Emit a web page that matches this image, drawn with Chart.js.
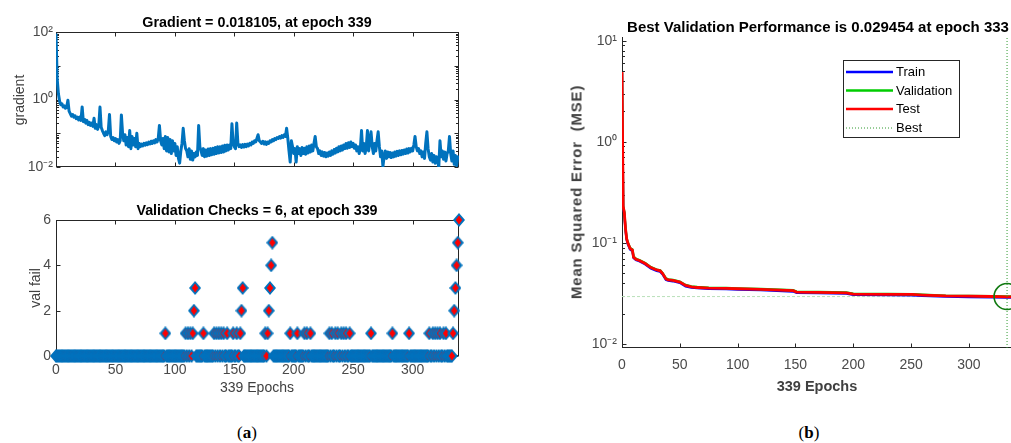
<!DOCTYPE html>
<html><head><meta charset="utf-8">
<script src="https://cdn.jsdelivr.net/npm/chart.js@4.4.1/dist/chart.umd.min.js"></script>
<style>
html,body{margin:0;padding:0;background:#fff;width:1011px;height:443px;overflow:hidden;position:relative;}
.box{position:absolute;}
.txt{position:absolute;font-family:"Liberation Sans",Arial,sans-serif;white-space:pre;line-height:1;transform:translate(-50%,-50%);}
.title{font-weight:bold;font-size:14.3px;color:#000;}
.title2{font-weight:bold;font-size:15px;color:#000;}
.lab{font-size:14px;color:#404040;}
.blab{font-weight:bold;font-size:14.5px;color:#404040;}
.ylab{font-weight:bold;font-size:15px;letter-spacing:0.8px;color:#404040;}
.rot{transform:translate(-50%,-50%) rotate(-90deg);}
.cap{font-family:"Liberation Serif","DejaVu Serif",serif;font-size:17px;color:#000;}
</style></head><body>
<div class="box" style="left:0;top:0;width:470px;height:185px"><canvas id="cGrad" width="470" height="185"></canvas></div>
<div class="box" style="left:0;top:190px;width:470px;height:200px"><canvas id="cFail" width="470" height="200"></canvas></div>
<div class="box" style="left:560px;top:0;width:451px;height:400px;overflow:hidden"><canvas id="cPerf" width="470" height="400"></canvas></div>

<div class="txt title" style="left:257px;top:22px">Gradient = 0.018105, at epoch 339</div>
<div class="txt lab rot" style="left:19px;top:100px">gradient</div>
<div class="txt title" style="left:257px;top:210px">Validation Checks = 6, at epoch 339</div>
<div class="txt lab rot" style="left:35px;top:288px">val fail</div>
<div class="txt lab" style="left:257px;top:387px">339 Epochs</div>
<div class="txt title2" style="left:818px;top:26px">Best Validation Performance is 0.029454 at epoch 333</div>
<div class="txt ylab rot" style="left:576px;top:192px">Mean Squared Error  (MSE)</div>
<div class="txt blab" style="left:817px;top:386px">339 Epochs</div>
<div class="txt cap" style="left:247px;top:432px">(<b>a</b>)</div>
<div class="txt cap" style="left:809px;top:432px">(<b>b</b>)</div>

<script>
// ---------------- DATA ----------------
const epochCount = 340;
const epochTicks = [0, 50, 100, 150, 200, 250, 300];
const epochTickLabels = ['0', '50', '100', '150', '200', '250', '300'];

// (a) top: gradient per epoch 0..339
const gradient = [
  90, 4.0, 1.5, 0.9, 0.7, 0.75, 0.6, 0.65, 0.55, 0.6,
  0.95, 0.45, 0.38, 0.32, 0.36, 0.3, 0.33, 0.27, 0.3, 0.25,
  0.3, 0.24, 0.6, 0.22, 0.26, 0.2, 0.24, 0.18, 0.21, 0.17,
  0.2, 0.16, 0.28, 0.14, 0.18, 0.13, 0.17, 0.6, 0.15, 0.12,
  0.1, 0.085, 0.11, 0.09, 0.12, 0.36, 0.08, 0.065, 0.075, 0.06,
  0.07, 0.055, 0.065, 0.05, 0.06, 0.35, 0.1, 0.06, 0.09, 0.045,
  0.075, 0.04, 0.12, 0.035, 0.08, 0.045, 0.07, 0.04, 0.1, 0.035,
  0.05, 0.04, 0.048, 0.042, 0.05, 0.044, 0.052, 0.046, 0.055, 0.048,
  0.058, 0.05, 0.06, 0.052, 0.065, 0.055, 0.07, 0.17, 0.06, 0.045,
  0.07, 0.035, 0.08, 0.03, 0.075, 0.028, 0.065, 0.025, 0.06, 0.03,
  0.05, 0.022, 0.04, 0.018, 0.013, 0.03, 0.05, 0.14, 0.06, 0.035,
  0.03, 0.02, 0.035, 0.017, 0.03, 0.016, 0.025, 0.02, 0.028, 0.022,
  0.17, 0.04, 0.03, 0.022, 0.035, 0.02, 0.032, 0.021, 0.034, 0.022,
  0.035, 0.023, 0.036, 0.024, 0.038, 0.025, 0.04, 0.026, 0.04, 0.027,
  0.042, 0.028, 0.044, 0.03, 0.045, 0.032, 0.045, 0.035, 0.19, 0.05,
  0.04, 0.035, 0.2, 0.05, 0.04, 0.045, 0.038, 0.046, 0.039, 0.047,
  0.04, 0.048, 0.042, 0.05, 0.045, 0.055, 0.05, 0.06, 0.055, 0.07,
  0.09, 0.06, 0.055, 0.05, 0.058, 0.048, 0.056, 0.047, 0.055, 0.05,
  0.06, 0.055, 0.065, 0.06, 0.07, 0.065, 0.075, 0.07, 0.08, 0.072,
  0.085, 0.075, 0.09, 0.08, 0.14, 0.07, 0.03, 0.014, 0.06, 0.04,
  0.025, 0.035, 0.014, 0.04, 0.025, 0.035, 0.022, 0.038, 0.025, 0.036,
  0.024, 0.04, 0.026, 0.042, 0.028, 0.045, 0.03, 0.05, 0.08, 0.04,
  0.035, 0.025, 0.03, 0.022, 0.028, 0.021, 0.027, 0.02, 0.026, 0.021,
  0.028, 0.022, 0.03, 0.024, 0.033, 0.026, 0.036, 0.028, 0.04, 0.03,
  0.042, 0.032, 0.045, 0.035, 0.05, 0.036, 0.052, 0.038, 0.055, 0.04,
  0.05, 0.036, 0.045, 0.03, 0.04, 0.025, 0.035, 0.12, 0.03, 0.05,
  0.025, 0.04, 0.12, 0.03, 0.06, 0.11, 0.04, 0.025, 0.05, 0.03,
  0.06, 0.11, 0.04, 0.02, 0.03, 0.0105, 0.02, 0.03, 0.018, 0.028,
  0.02, 0.027, 0.019, 0.026, 0.02, 0.028, 0.021, 0.029, 0.022, 0.03,
  0.023, 0.031, 0.024, 0.032, 0.025, 0.034, 0.026, 0.035, 0.028, 0.036,
  0.03, 0.045, 0.08, 0.04, 0.03, 0.035, 0.025, 0.03, 0.02, 0.028,
  0.018, 0.05, 0.11, 0.035, 0.02, 0.016, 0.025, 0.014, 0.022, 0.013,
  0.02, 0.015, 0.01, 0.06, 0.02, 0.03, 0.017, 0.028, 0.015, 0.025,
  0.03, 0.08, 0.025, 0.015, 0.03, 0.012, 0.022, 0.011, 0.02, 0.018105
];
const gradYTicks = [0.01, 1, 100];
const gradYLabels = ['10\u207B\u00B2', '10\u2070', '10\u00B2'];

// (a) bottom: validation checks (all other epochs are 0)
const failEpochs = [92,109,111,113,115,116,117,124,133,135,137,139,141,144,149,152,155,156,157,
  176,178,179,180,181,182,197,203,209,211,214,230,232,235,237,240,242,244,247,265,283,297,
  314,317,319,321,323,326,328,334,335,336,337,338,339];
const failCounts = [1,1,1,1,1,2,3,1,1,1,1,1,1,1,1,1,1,2,3,
  1,1,2,3,4,5,1,1,1,1,1,1,1,1,1,1,1,1,1,1,1,1,
  1,1,1,1,1,1,1,1,2,3,4,5,6];
const failYTicks = [0, 2, 4, 6];
const failYLabels = ['0', '2', '4', '6'];

// (b) performance
const perfEpochs = [0,1,2,3,4,5,7,9,10,12,15,20,25,30,33,35,38,40,44,50,55,60,65,75,90,100,120,148,151,170,194,200,230,251,260,280,300,320,333,339];
const trainPerf = [4.8,0.225,0.196,0.137,0.108,0.098,0.086,0.083,0.071,0.068,0.066,0.0615,0.0558,0.053,0.052,0.049,0.0432,0.0423,0.0418,0.0403,0.0372,0.0362,0.0357,0.0351,0.0349,0.0346,0.0341,0.0331,0.0321,0.0319,0.0315,0.0307,0.0305,0.0304,0.03,0.0294,0.0292,0.029,0.0288,0.0288];
const validPerf = [4.85,0.232,0.202,0.141,0.111,0.101,0.089,0.086,0.073,0.0697,0.0677,0.0632,0.0575,0.0545,0.0536,0.0505,0.0445,0.0435,0.043,0.0415,0.0384,0.0372,0.0366,0.0361,0.0358,0.0355,0.035,0.034,0.0329,0.0327,0.0323,0.0315,0.0313,0.0311,0.0307,0.0301,0.0299,0.0297,0.029454,0.0296];
const testPerf = [4.9,0.23,0.2,0.14,0.11,0.1,0.088,0.085,0.072,0.069,0.067,0.0625,0.057,0.054,0.053,0.05,0.044,0.043,0.0425,0.041,0.038,0.0368,0.0362,0.0357,0.0355,0.0352,0.0347,0.0337,0.0326,0.0324,0.032,0.0312,0.031,0.0309,0.0305,0.0299,0.0297,0.0295,0.0293,0.0293];
const bestEpoch = 333;
const bestValue = 0.029454;
const perfYTicks = [0.01, 0.1, 1, 10];
const perfYLabels = ['10\u207B\u00B2', '10\u207B\u00B9', '10\u2070', '10\u00B9'];
const legendItems = ['Train', 'Validation', 'Test', 'Best'];

// ---------------- HELPERS ----------------
const FONT = '"Liberation Sans", Arial, sans-serif';
const TICKCOL = '#4a4a4a';
const AXCOL = '#262626';
const epochs = Array.from({length: epochCount}, (_, i) => i);
const valFail = epochs.map(() => 0);
failEpochs.forEach((e, i) => { valFail[e] = failCounts[i]; });

function minorsFor(decades) {
  const out = [];
  decades.forEach(d => { for (let k = 2; k <= 9; k++) out.push(d * k); });
  return out;
}

const matlabAxes = {
  id: 'matlabAxes',
  beforeDatasetsDraw(chart, args, o) {
    const {ctx, chartArea: a} = chart;
    const xs = chart.scales.x, ys = chart.scales.y;
    const L = Math.round(a.left) + 0.5, R = Math.round(a.right) - 0.5;
    const T = Math.round(a.top) + 0.5, B = Math.round(a.bottom) - 0.5;
    const s = o.sides, len = o.len, mlen = o.mlen;
    ctx.save();
    ctx.strokeStyle = AXCOL;
    ctx.lineWidth = 1;
    ctx.beginPath();
    if (s.includes('l')) { ctx.moveTo(L, T - 0.5); ctx.lineTo(L, B + 0.5); }
    if (s.includes('r')) { ctx.moveTo(R, T - 0.5); ctx.lineTo(R, B + 0.5); }
    if (s.includes('t')) { ctx.moveTo(L - 0.5, T); ctx.lineTo(R + 0.5, T); }
    if (s.includes('b')) { ctx.moveTo(L - 0.5, B); ctx.lineTo(R + 0.5, B); }
    (o.xTicks || []).forEach(v => {
      const px = Math.round(xs.getPixelForValue(v)) + 0.5;
      if (px > R + 1) return;
      ctx.moveTo(px, B); ctx.lineTo(px, B - len);
      if (o.mirror) { ctx.moveTo(px, T); ctx.lineTo(px, T + len); }
    });
    const yt = (vals, l) => (vals || []).forEach(v => {
      const py = Math.round(ys.getPixelForValue(v)) + 0.5;
      if (py < T - 1 || py > B + 1) return;
      ctx.moveTo(L, py); ctx.lineTo(L + l, py);
      if (o.mirror) { ctx.moveTo(R, py); ctx.lineTo(R - l, py); }
    });
    yt(o.yTicks, len);
    yt(o.yMinor, mlen);
    ctx.stroke();
    ctx.restore();
  }
};

const perfLegend = {
  id: 'perfLegend',
  afterDraw(chart, args, o) {
    const ctx = chart.ctx;
    const x0 = 283.5, y0 = 60.5, w = 116, h = 77;
    ctx.save();
    ctx.fillStyle = '#fff';
    ctx.fillRect(x0, y0, w, h);
    ctx.strokeStyle = AXCOL; ctx.lineWidth = 1;
    ctx.strokeRect(x0, y0, w, h);
    const cols = ['#0000ff', '#00cc00', '#ff0000', '#2f9a2f'];
    const rows = [72, 90.5, 109, 128];
    ctx.font = '13px ' + FONT;
    ctx.textBaseline = 'middle';
    legendItems.forEach((lab, i) => {
      ctx.beginPath();
      ctx.strokeStyle = cols[i];
      if (i === 3) { ctx.lineWidth = 1; ctx.setLineDash([1, 2]); }
      else { ctx.lineWidth = 2.5; ctx.setLineDash([]); }
      ctx.moveTo(286, rows[i]); ctx.lineTo(333, rows[i]);
      ctx.stroke();
      ctx.fillStyle = '#000';
      ctx.fillText(lab, 336, rows[i] + 0.5);
    });
    ctx.restore();
  }
};

function xScale(height, showLabels, pad) {
  return {
    type: 'linear', min: 0, max: epochCount - 1,
    afterBuildTicks: s => { s.ticks = epochTicks.map(v => ({value: v})); },
    afterFit: s => { s.height = height; },
    ticks: {display: showLabels, autoSkip: false, maxRotation: 0, padding: pad,
      font: {family: FONT, size: 14}, color: TICKCOL,
      callback: (v, i) => epochTickLabels[i]},
    grid: {display: false, drawTicks: false},
    border: {display: false}
  };
}
function yScale(type, min, max, ticks, labels, width, pad) {
  return {
    type, min, max,
    afterBuildTicks: s => { s.ticks = ticks.map(v => ({value: v})); },
    afterFit: s => { s.width = width; },
    ticks: {autoSkip: false, padding: pad, font: {family: FONT, size: 14}, color: TICKCOL,
      callback: (v, i) => labels[i]},
    grid: {display: false, drawTicks: false},
    border: {display: false}
  };
}
const common = {responsive: false, animation: false, events: []};

// ---------------- (a) gradient ----------------
new Chart(document.getElementById('cGrad'), {
  type: 'line',
  data: {datasets: [{
    data: epochs.map((e, i) => ({x: e, y: gradient[i]})),
    borderColor: '#0072BD', borderWidth: 3, pointRadius: 0, tension: 0, fill: false,
    borderJoinStyle: 'round'
  }]},
  options: Object.assign({}, common, {
    layout: {padding: {left: 0, top: 32, right: 11, bottom: 0}},
    plugins: {legend: {display: false}, tooltip: {enabled: false},
      matlabAxes: {sides: 'lrtb', mirror: true, len: 4, mlen: 2.5,
        xTicks: epochTicks, yTicks: [0.01, 0.1, 1, 10, 100], yMinor: minorsFor([0.01, 0.1, 1, 10])}},
    scales: {
      x: xScale(18, false, 0),
      y: yScale('logarithmic', 0.01, 100, gradYTicks, gradYLabels, 56, 3)
    }
  }),
  plugins: [matlabAxes]
});

// ---------------- (a) validation checks ----------------
function makeDiamond() {
  const c = document.createElement('canvas');
  c.width = 12; c.height = 14;
  const g = c.getContext('2d');
  g.fillStyle = '#0072BD';
  g.beginPath(); g.moveTo(6, 0); g.lineTo(12, 7); g.lineTo(6, 14); g.lineTo(0, 7); g.closePath(); g.fill();
  g.fillStyle = '#ff0000';
  g.beginPath(); g.moveTo(6, 2.5); g.lineTo(9.2, 7); g.lineTo(6, 11.5); g.lineTo(2.8, 7); g.closePath(); g.fill();
  return c;
}
new Chart(document.getElementById('cFail'), {
  type: 'scatter',
  data: {datasets: [{
    data: epochs.map((e, i) => ({x: e, y: valFail[i]})),
    pointStyle: makeDiamond(), pointRadius: 5, showLine: false, clip: false
  }]},
  options: Object.assign({}, common, {
    layout: {padding: {left: 0, top: 30, right: 11, bottom: 0}},
    plugins: {legend: {display: false}, tooltip: {enabled: false},
      matlabAxes: {sides: 'lrtb', mirror: true, len: 4, mlen: 0, xTicks: epochTicks, yTicks: failYTicks}},
    scales: {
      x: xScale(34, true, 6),
      y: yScale('linear', 0, 6, failYTicks, failYLabels, 56, 5)
    }
  }),
  plugins: [matlabAxes]
});

// ---------------- (b) performance ----------------
const perfYMin = 0.00913, perfYMax = 10.88;
const pts = (xs, ys) => xs.map((x, i) => ({x, y: ys[i]}));
new Chart(document.getElementById('cPerf'), {
  type: 'line',
  data: {datasets: [
    {label: 'Test', data: pts(perfEpochs, testPerf), borderColor: '#ff0000', borderWidth: 2.8, pointRadius: 0, tension: 0, order: 1},
    {label: 'Validation', data: pts(perfEpochs, validPerf), borderColor: '#00cc00', borderWidth: 2.4, pointRadius: 0, tension: 0, order: 2},
    {label: 'Train', data: pts(perfEpochs, trainPerf), borderColor: '#0000ff', borderWidth: 2.4, pointRadius: 0, tension: 0, order: 3},
    {label: 'BestH', data: [{x: 0, y: bestValue}, {x: epochCount - 1, y: bestValue}], borderColor: '#b9e0b9', borderWidth: 1, borderDash: [3, 2], pointRadius: 0, order: 4},
    {label: 'BestV', data: [{x: bestEpoch, y: perfYMin}, {x: bestEpoch, y: perfYMax}], borderColor: '#2f9a2f', borderWidth: 1, borderDash: [1, 2], pointRadius: 0, order: 0},
    {label: 'BestC', data: [{x: bestEpoch, y: bestValue}], showLine: false, pointStyle: 'circle', pointRadius: 13, borderColor: '#117a11', borderWidth: 1.6, backgroundColor: 'rgba(0,0,0,0)', order: -1, clip: false}
  ]},
  options: Object.assign({}, common, {
    layout: {padding: {left: 0, top: 37, right: 16, bottom: 0}},
    plugins: {legend: {display: false}, tooltip: {enabled: false},
      matlabAxes: {sides: 'lb', mirror: false, len: 4, mlen: 2.5,
        xTicks: epochTicks, yTicks: perfYTicks, yMinor: minorsFor([0.01, 0.1, 1])}},
    scales: {
      x: xScale(52, true, 9),
      y: yScale('logarithmic', perfYMin, perfYMax, perfYTicks, perfYLabels, 62, 5)
    }
  }),
  plugins: [matlabAxes, perfLegend]
});
</script>
</body></html>
